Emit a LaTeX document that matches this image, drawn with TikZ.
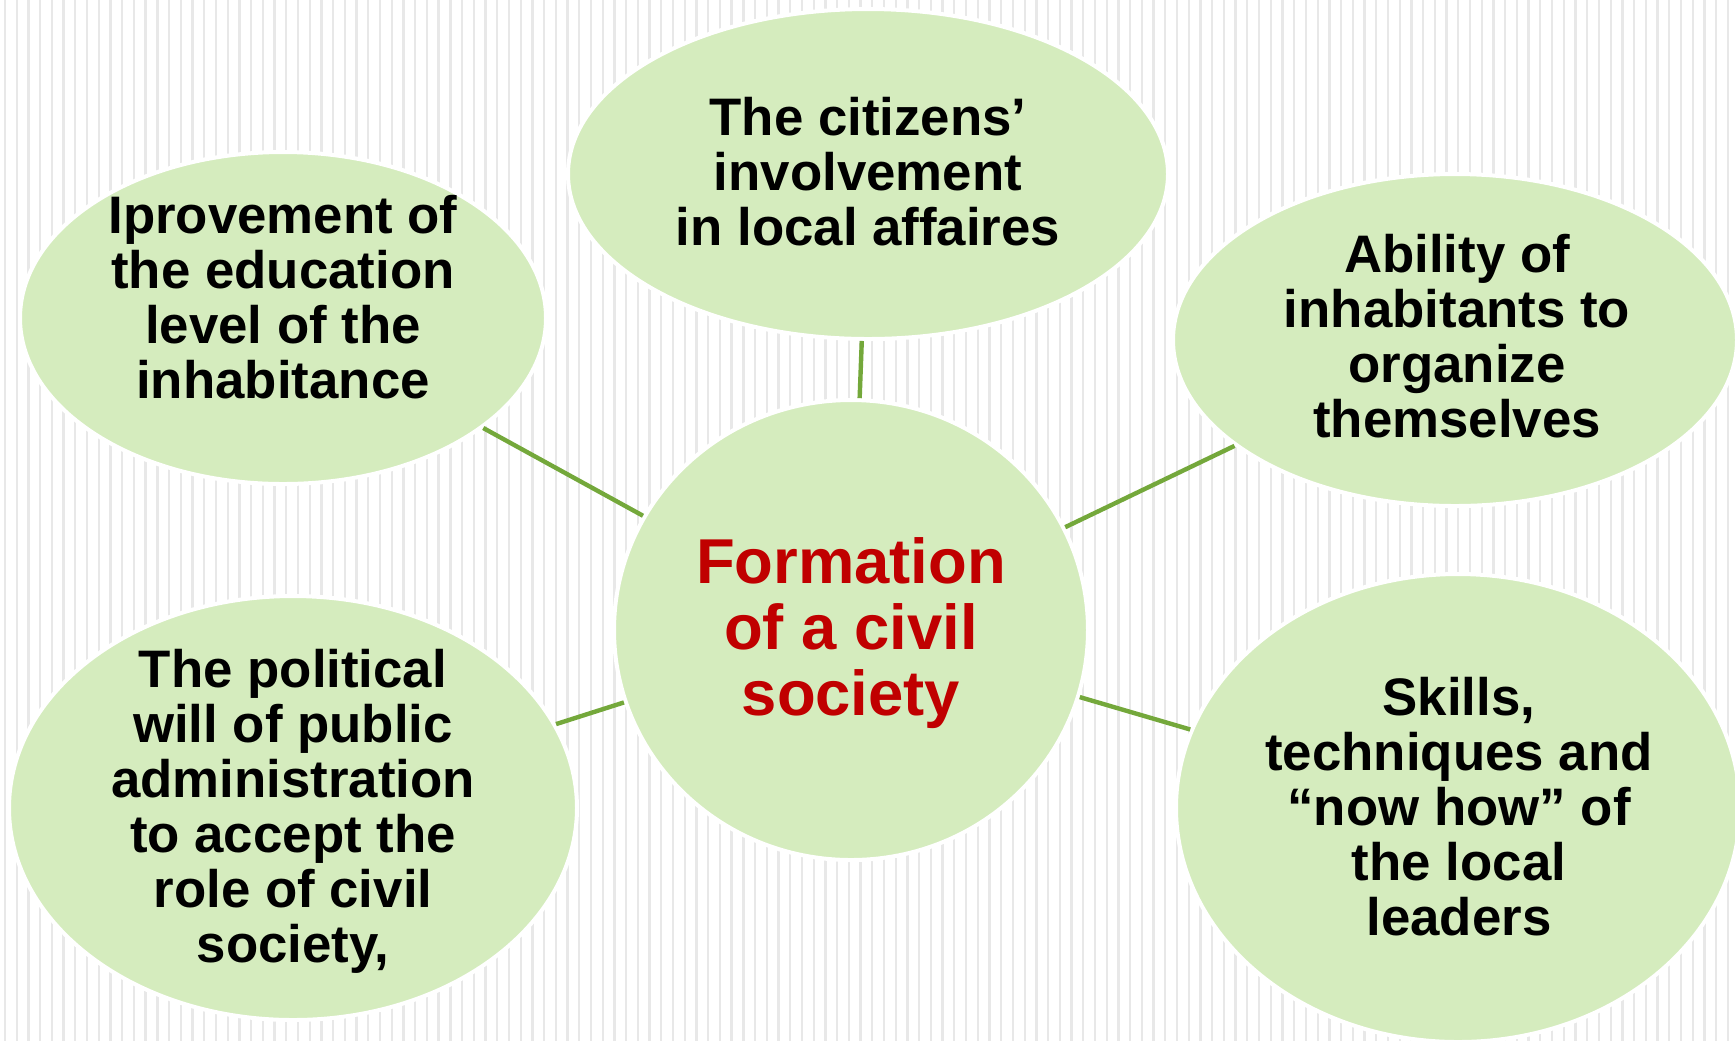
\documentclass[tikz,border=0pt]{standalone}
\usepackage{fontspec}
\setmainfont{Liberation Sans}
\usetikzlibrary{shapes.geometric}
\definecolor{bubble}{HTML}{D5ECBE}
\definecolor{linkgreen}{HTML}{74A83B}
\definecolor{centerred}{HTML}{C00000}
\definecolor{stripegray}{HTML}{E8E8E8}
\tikzset{
  bubble/.style={ellipse, fill=bubble, draw=white, line width=2pt, inner sep=0pt},
  txt/.style={align=center, inner sep=0pt, font=\fontsize{26.4}{27.5}\selectfont\bfseries},
  ctxt/.style={align=center, inner sep=0pt, text=centerred, font=\fontsize{31.7}{33}\selectfont\bfseries},
  link/.style={draw=linkgreen, line width=2.2pt},
  stripe/.style={draw=stripegray, line width=1.15pt}
}
\begin{document}
\begin{tikzpicture}[x=0.5pt, y=-0.5pt]
\useasboundingbox (0,0) rectangle (1735,1041);
\clip (0,0) rectangle (1735,1041);
\fill[white] (0,0) rectangle (1735,1041);
\foreach \i in {0,...,148} \draw[stripe] ({\i*11.72+5},0) -- ({\i*11.72+5},1041);
% shapes
\node[bubble, minimum width=300pt, minimum height=165pt] (top) at (868,174) {};
\node[bubble, minimum width=263pt, minimum height=166pt] (lt) at (283,318) {};
\node[bubble, minimum width=282pt, minimum height=166pt] (rt) at (1455,340) {};
\node[bubble, minimum width=237pt, minimum height=230pt] (ctr) at (851,630) {};
\node[bubble, minimum width=284pt, minimum height=212pt] (lb) at (293,808) {};
\node[bubble, minimum width=282pt, minimum height=234pt] (rb) at (1458,808) {};
% texts
\node[txt] (ttop) at (868,172) {The citizens’\\involvement\\in local affaires};
\node[txt] (tlt) at (283,297) {Iprovement of\\the education\\level of the\\inhabitance};
\node[txt] (trt) at (1457,336) {Ability of\\inhabitants to\\organize\\themselves};
\node[ctxt] (tctr) at (851,633) {Formation\\of a civil\\society};
\node[txt] (tlb) at (293,811) {The political\\will of public\\administration\\to accept the\\role of civil\\society,};
\node[txt] (trb) at (1459,807) {Skills,\\techniques and\\“now how” of\\the local\\leaders};
% connectors
\draw[link] (ctr) -- (top);
\draw[link] (ctr) -- (lt);
\draw[link] (ctr) -- (rt);
\draw[link] (ctr) -- (lb);
\draw[link] (ctr) -- (rb);
\end{tikzpicture}
\end{document}
